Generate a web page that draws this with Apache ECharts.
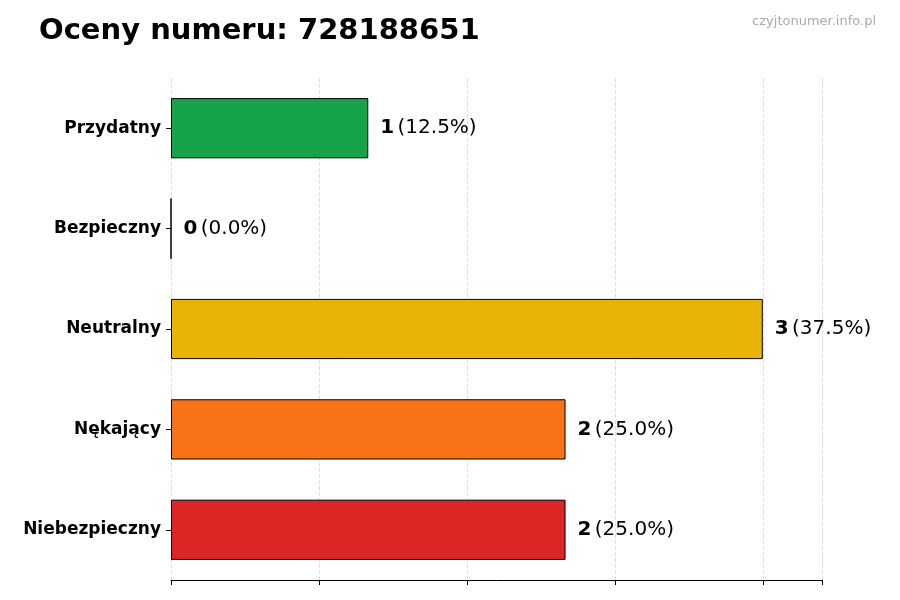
<!DOCTYPE html>
<html><head><meta charset="utf-8">
<script src="https://cdn.jsdelivr.net/npm/echarts@6/dist/echarts.min.js"></script>
<style>html,body{margin:0;padding:0;background:#fff}#c{width:900px;height:600px}</style>
</head><body><div id="c"></div>
<script>
// dane z obrazka
const categories = ["Niebezpieczny", "Nękający", "Neutralny", "Bezpieczny", "Przydatny"];
const counts = [2, 2, 3, 0, 1];
const percents = ["25.0%", "25.0%", "37.5%", "0.0%", "12.5%"];
const colors = ["#dc2626", "#f97316", "#eab308", "#2563eb", "#16a34a"];

const chart = echarts.init(document.getElementById('c'));
chart.setOption({
    animation: false,
    title: [{
        text: 'Oceny numeru: 728188651',
        left: 34, top: 12,
        textStyle: {fontSize: 29, fontWeight: 'bold', color: '#000', fontFamily: 'DejaVu Sans'}
    }, {
        text: 'czyjtonumer.info.pl',
        right: 19, top: 10,
        textStyle: {fontSize: 13, fontWeight: 'normal', color: '#aaa', fontFamily: 'DejaVu Sans'}
    }],
    grid: {left: 171, right: 78, top: 78, bottom: 20},
    xAxis: {
        type: 'value', min: 0, max: 3.3, interval: 0.75,
        axisLine: {show: true, lineStyle: {color: '#000'}},
        axisTick: {show: true, length: 5, lineStyle: {color: '#000'}},
        axisLabel: {show: false},
        splitLine: {show: true, lineStyle: {type: 'dashed', color: '#ddd'}}
    },
    yAxis: {
        type: 'category', data: categories,
        axisLine: {show: false},
        axisTick: {show: true, length: 5, alignWithLabel: true, lineStyle: {color: '#000'}},
        axisLabel: {fontSize: 17, fontWeight: 'bold', color: '#000', fontFamily: 'DejaVu Sans', margin: 10}
    },
    series: [{
        type: 'bar',
        barWidth: '60%',
        data: counts.map((v, i) => ({value: v, itemStyle: {color: colors[i]}})),
        itemStyle: {borderColor: '#000', borderWidth: 1},
        label: {
            show: true, position: 'right', distance: 12,
            formatter: p => '{b|' + p.value + '} {n|(' + percents[p.dataIndex] + ')}',
            rich: {
                b: {fontSize: 20, fontWeight: 'bold', color: '#000', fontFamily: 'DejaVu Sans'},
                n: {fontSize: 20, color: '#000', fontFamily: 'DejaVu Sans'}
            }
        }
    }]
});
</script></body></html>
